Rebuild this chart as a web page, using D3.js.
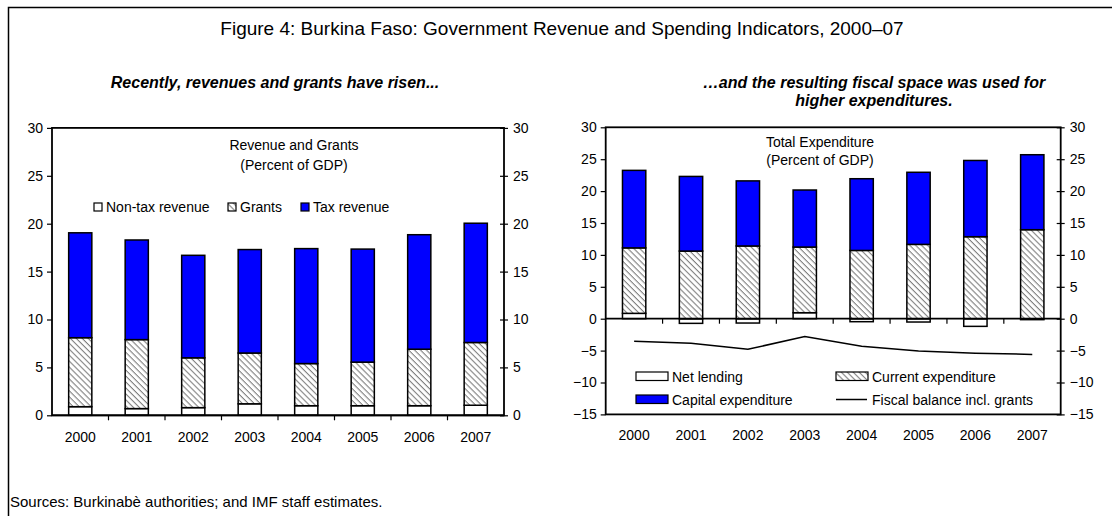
<!DOCTYPE html>
<html>
<head>
<meta charset="utf-8">
<script src="https://cdn.jsdelivr.net/npm/d3@7"></script>
<style>
  body { margin: 0; background: #fff; }
  svg { display: block; font-family: "Liberation Sans", Arial, sans-serif; }
  .axis path, .axis line { stroke: #000; }
</style>
</head>
<body>
<svg id="chart" width="1112" height="516"></svg>
<script>
// data (percent of GDP)
const years = ["2000", "2001", "2002", "2003", "2004", "2005", "2006", "2007"];

const nonTaxRevenue = [0.9, 0.7, 0.8, 1.2, 1.0, 1.0, 1.0, 1.05];
const grants        = [7.2, 7.2, 5.2, 5.3, 4.4, 4.55, 5.9, 6.55];
const taxRevenue    = [10.95, 10.4, 10.7, 10.8, 12.0, 11.8, 11.95, 12.45];

const netLending    = [0.84, -0.73, -0.68, 0.94, -0.47, -0.52, -1.2, -0.15];
const currentExp    = [10.26, 10.6, 11.4, 10.29, 10.7, 11.65, 12.85, 13.95];
const capitalExp    = [12.15, 11.7, 10.2, 8.94, 11.24, 11.3, 11.95, 11.75];
const fiscalBalance = [-3.54, -3.85, -4.79, -2.81, -4.32, -5.05, -5.4, -5.6];

const leftTicks  = [0, 5, 10, 15, 20, 25, 30];
const rightTicks = [-15, -10, -5, 0, 5, 10, 15, 20, 25, 30];

const blue = "#0000ff";
const svg = d3.select("#chart");

// hatch pattern for grants / current expenditure
const defs = svg.append("defs");
const pat = defs.append("pattern")
    .attr("id", "hatch")
    .attr("patternUnits", "userSpaceOnUse")
    .attr("width", 4.2).attr("height", 4.2)
    .attr("patternTransform", "rotate(45)");
pat.append("rect").attr("width", 4.2).attr("height", 4.2).attr("fill", "#fff");
pat.append("line")
    .attr("x1", 0).attr("y1", 0).attr("x2", 4.2).attr("y2", 0)
    .attr("stroke", "#7f7f7f").attr("stroke-width", 2.2);

// outer frame (runs off right and bottom edge)
svg.append("rect")
    .attr("x", 8.5).attr("y", 7.5)
    .attr("width", 1120).attr("height", 530)
    .attr("fill", "none").attr("stroke", "#000").attr("stroke-width", 1.5);

svg.append("text")
    .attr("x", 562).attr("y", 35)
    .attr("text-anchor", "middle")
    .style("font-size", "19px")
    .text("Figure 4: Burkina Faso: Government Revenue and Spending Indicators, 2000\u201307");

svg.append("text")
    .attr("x", 275).attr("y", 88)
    .attr("text-anchor", "middle")
    .style("font-size", "16px").style("font-weight", "bold").style("font-style", "italic")
    .text("Recently, revenues and grants have risen...");

const sub2 = svg.append("text")
    .attr("text-anchor", "middle")
    .style("font-size", "16px").style("font-weight", "bold").style("font-style", "italic");
sub2.append("tspan").attr("x", 874).attr("y", 88).text("\u2026and the resulting fiscal space was used for");
sub2.append("tspan").attr("x", 874).attr("y", 106).text("higher expenditures.");

svg.append("text")
    .attr("x", 10).attr("y", 507)
    .style("font-size", "15px")
    .text("Sources: Burkinab\u00e8 authorities; and IMF staff estimates.");

// shared axis drawing
function drawFrame(g, x, y, ticks, left, right, zeroY, labelY) {
    const top = y(d3.max(ticks)), bottom = y(d3.min(ticks));

    const ya = g.append("g").attr("class", "axis")
        .attr("transform", `translate(${left},0)`)
        .call(d3.axisLeft(y).tickValues(ticks).tickSize(5).tickSizeOuter(0).tickPadding(4));
    const yb = g.append("g").attr("class", "axis")
        .attr("transform", `translate(${right},0)`)
        .call(d3.axisRight(y).tickValues(ticks).tickSize(4).tickSizeOuter(0).tickPadding(5));
    yb.selectAll(".tick line").attr("x1", -4);
    [ya, yb].forEach(a => {
        a.select(".domain").remove();
        a.selectAll("text").style("font-size", "14px").style("fill", "#000");
        a.selectAll(".tick line").attr("stroke-width", 1.2);
    });

    // frame
    g.append("rect")
        .attr("x", left).attr("y", top)
        .attr("width", right - left).attr("height", bottom - top)
        .attr("fill", "none").attr("stroke", "#000").attr("stroke-width", 1.8);

    // zero line with category boundary ticks
    g.append("line")
        .attr("x1", left).attr("x2", right).attr("y1", zeroY).attr("y2", zeroY)
        .attr("stroke", "#000").attr("stroke-width", 1.8);
    g.selectAll(".cat-tick")
        .data(years.slice(1))
        .join("line")
        .attr("x1", d => x(d)).attr("x2", d => x(d))
        .attr("y1", zeroY).attr("y2", zeroY + 5)
        .attr("stroke", "#000").attr("stroke-width", 1.2);

    g.selectAll(".year")
        .data(years)
        .join("text")
        .attr("x", d => x(d) + x.bandwidth() / 2)
        .attr("y", labelY)
        .attr("text-anchor", "middle")
        .style("font-size", "14px")
        .text(d => d);
}

// ---------- left chart: revenue and grants ----------
const L = {left: 52, right: 504};
const xL = d3.scaleBand().domain(years).range([L.left, L.right]);
const yL = d3.scaleLinear().domain([0, 30]).range([415.3, 127.9]);
const barW = xL.bandwidth() * 0.41;

const revRows = years.map((yr, i) => ({year: yr, nonTax: nonTaxRevenue[i], grants: grants[i], tax: taxRevenue[i]}));
const revStack = d3.stack().keys(["nonTax", "grants", "tax"])(revRows);
const revFill = {nonTax: "#fff", grants: "url(#hatch)", tax: blue};

const gL = svg.append("g");
gL.selectAll("g.series")
    .data(revStack)
    .join("g")
    .attr("fill", d => revFill[d.key])
    .selectAll("rect")
    .data(d => d)
    .join("rect")
    .attr("x", d => xL(d.data.year) + (xL.bandwidth() - barW) / 2)
    .attr("width", barW)
    .attr("y", d => yL(d[1]))
    .attr("height", d => yL(d[0]) - yL(d[1]))
    .attr("stroke", "#000").attr("stroke-width", 1.5);

drawFrame(gL, xL, yL, leftTicks, L.left, L.right, yL(0), 442);

const tL = gL.append("text").attr("text-anchor", "middle").style("font-size", "14px");
tL.append("tspan").attr("x", 294).attr("y", 150).text("Revenue and Grants");
tL.append("tspan").attr("x", 294).attr("y", 170).text("(Percent of GDP)");

const legL = [
    {label: "Non-tax revenue", fill: "#fff", x: 94},
    {label: "Grants", fill: "url(#hatch)", x: 228},
    {label: "Tax revenue", fill: blue, x: 301}
];
const lgL = gL.selectAll(".legL").data(legL).join("g")
    .attr("transform", d => `translate(${d.x},203)`);
lgL.append("rect").attr("width", 8).attr("height", 8)
    .attr("fill", d => d.fill).attr("stroke", "#000").attr("stroke-width", 1.2);
lgL.append("text").attr("x", 12).attr("y", 8.5)
    .style("font-size", "14px").text(d => d.label);

// ---------- right chart: total expenditure ----------
const R = {left: 605.7, right: 1060.7};
const xR = d3.scaleBand().domain(years).range([R.left, R.right]);
const yR = d3.scaleLinear().domain([-15, 30]).range([414.4, 127.3]);
const barWR = xR.bandwidth() * 0.41;

const expRows = years.map((yr, i) => ({year: yr, net: netLending[i], current: currentExp[i], capital: capitalExp[i]}));
const expStack = d3.stack().keys(["net", "current", "capital"]).offset(d3.stackOffsetDiverging)(expRows);
const expFill = {net: "#fff", current: "url(#hatch)", capital: blue};

const gR = svg.append("g");
gR.selectAll("g.series")
    .data(expStack)
    .join("g")
    .attr("fill", d => expFill[d.key])
    .selectAll("rect")
    .data(d => d)
    .join("rect")
    .attr("x", d => xR(d.data.year) + (xR.bandwidth() - barWR) / 2)
    .attr("width", barWR)
    .attr("y", d => yR(Math.max(d[0], d[1])))
    .attr("height", d => Math.abs(yR(d[0]) - yR(d[1])))
    .attr("stroke", "#000").attr("stroke-width", 1.5);

drawFrame(gR, xR, yR, rightTicks, R.left, R.right, yR(0), 440);

const line = d3.line()
    .x((d, i) => xR(years[i]) + xR.bandwidth() / 2)
    .y(d => yR(d));
gR.append("path")
    .datum(fiscalBalance)
    .attr("d", line)
    .attr("fill", "none").attr("stroke", "#000").attr("stroke-width", 1.5);

const tR = gR.append("text").attr("text-anchor", "middle").style("font-size", "14px");
tR.append("tspan").attr("x", 820).attr("y", 147).text("Total Expenditure");
tR.append("tspan").attr("x", 820).attr("y", 165).text("(Percent of GDP)");

const legR = [
    {label: "Net lending", fill: "#fff", x: 636, y: 372},
    {label: "Current expenditure", fill: "url(#hatch)", x: 836, y: 372},
    {label: "Capital expenditure", fill: blue, x: 636, y: 395},
    {label: "Fiscal balance incl. grants", fill: null, x: 836, y: 395}
];
const lgR = gR.selectAll(".legR").data(legR).join("g")
    .attr("transform", d => `translate(${d.x},${d.y})`);
lgR.filter(d => d.fill).append("rect").attr("width", 32).attr("height", 8.5)
    .attr("fill", d => d.fill).attr("stroke", "#000").attr("stroke-width", 1.2);
lgR.filter(d => !d.fill).append("line")
    .attr("x1", 0).attr("x2", 31).attr("y1", 4.5).attr("y2", 4.5)
    .attr("stroke", "#000").attr("stroke-width", 1.5);
lgR.append("text").attr("x", 36).attr("y", 9.5)
    .style("font-size", "14px").text(d => d.label);
</script>
</body>
</html>
